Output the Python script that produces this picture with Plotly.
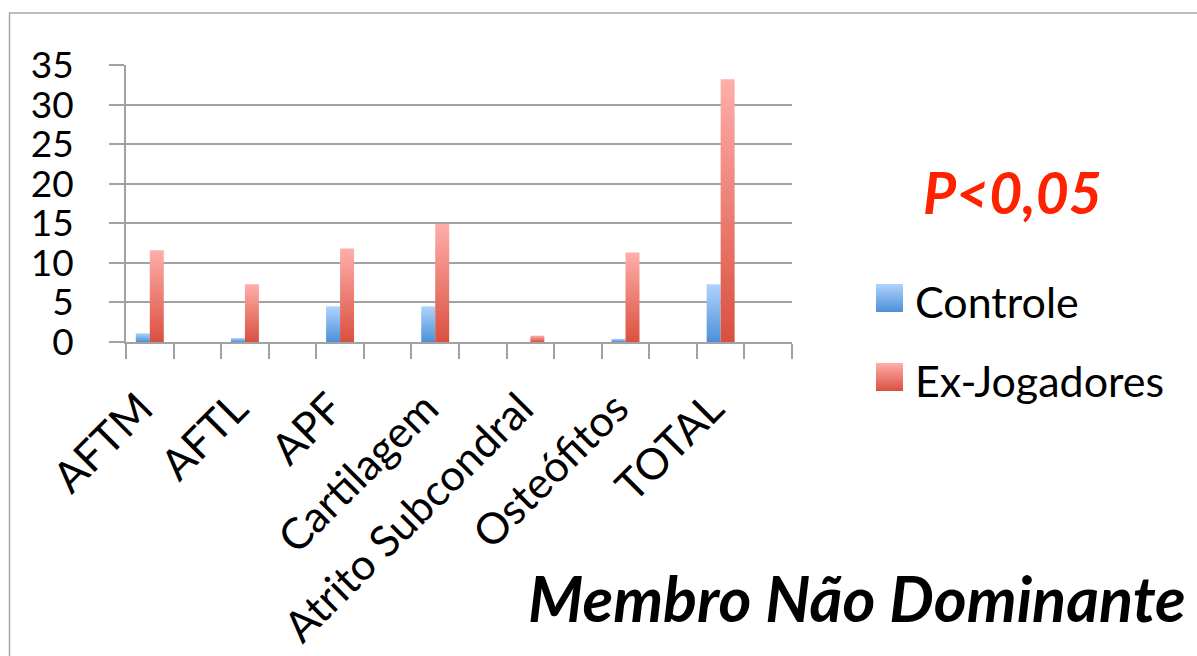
import plotly.graph_objects as go

# Achados por estrutura (membro não dominante)
categorias = ["AFTM", "AFTL", "APF", "Cartilagem", "Atrito Subcondral", "Osteófitos", "TOTAL"]
controle = [1.1, 0.5, 4.5, 4.5, 0.0, 0.4, 7.3]
ex_jogadores = [11.6, 7.3, 11.8, 14.9, 0.8, 11.3, 33.2]
y_ticks = [0, 5, 10, 15, 20, 25, 30, 35]

# each category sits in every other slot, leaving an empty slot between groups
n_slots = 2 * len(categorias)
pos = [2 * i for i in range(len(categorias))]

W, H = 1197, 656
L, R, T, B = 126, 792, 65, 342  # plot area in pixels
FONT = "Lato, 'Open Sans', sans-serif"
GRID = "#a2a2a2"
BLUE = "#7db3ee"
RED = "#ef8580"
bar_w = 0.294
label_shift = -0.2  # nudges the slanted labels so they end under the bar pair


def px(x):
    return (x - L) / (R - L)


def py(y):
    return (B - y) / (B - T)


fig = go.Figure()
fig.add_trace(go.Bar(x=pos, y=controle, name="Controle", width=bar_w, offset=-bar_w,
                     marker=dict(color=BLUE, line=dict(width=0))))
fig.add_trace(go.Bar(x=pos, y=ex_jogadores, name="Ex-Jogadores", width=bar_w, offset=0,
                     marker=dict(color=RED, line=dict(width=0))))

fig.update_layout(
    width=W, height=H,
    margin=dict(l=L, r=W - R, t=T, b=H - B, autoexpand=False),
    paper_bgcolor="white", plot_bgcolor="white",
    showlegend=False,
    barmode="overlay",
    font=dict(family=FONT, color="black"),
    xaxis=dict(
        range=[-0.5, n_slots - 0.5],
        tickvals=[p + label_shift for p in pos], ticktext=categorias,
        tickangle=-45, ticks="", ticklabelstandoff=22,
        tickfont=dict(size=43, family=FONT),
        showgrid=False, zeroline=False, automargin=False,
        showline=True, linecolor=GRID, linewidth=2,
        minor=dict(tick0=-0.5, dtick=1, ticks="outside", ticklen=15,
                   tickcolor=GRID, tickwidth=2, showgrid=False),
        fixedrange=True,
    ),
    yaxis=dict(
        range=[0, 35], tickvals=y_ticks,
        ticks="outside", ticklen=15, tickcolor=GRID, tickwidth=2,
        ticklabelstandoff=28,
        tickfont=dict(size=37, family=FONT),
        showgrid=True, gridcolor=GRID, gridwidth=2,
        zeroline=False, showline=True, linecolor=GRID, linewidth=2,
        automargin=False, fixedrange=True,
    ),
)

# outer frame of the chart
fig.add_shape(type="rect", xref="paper", yref="paper",
              x0=px(9.5), y0=py(700), x1=px(1250), y1=py(13),
              line=dict(color="#a8a8a8", width=1.5), fillcolor="rgba(0,0,0,0)", layer="below")

# significance note
fig.add_annotation(x=px(1012), y=py(192), xref="paper", yref="paper",
                   xanchor="center", yanchor="middle",
                   text="<b><i>P<0,05</i></b>", showarrow=False,
                   font=dict(size=57, color="#ff2200", family=FONT))

# chart title at the bottom right
fig.add_annotation(x=px(1188), y=py(597), xref="paper", yref="paper",
                   xanchor="right", yanchor="middle",
                   text="<b><i>Membro Não Dominante</i></b>", showarrow=False,
                   font=dict(size=63, color="black", family=FONT))

# legend keys
for name, color, yc in [("Controle", BLUE, 298), ("Ex-Jogadores", RED, 377)]:
    fig.add_shape(type="rect", xref="paper", yref="paper",
                  x0=px(876), x1=px(903), y0=py(yc + 14), y1=py(yc - 14),
                  fillcolor=color, line=dict(width=0))
    fig.add_annotation(x=px(913), y=py(yc + 3), xref="paper", yref="paper",
                       xanchor="left", yanchor="middle", text=name, showarrow=False,
                       font=dict(size=43, color="black", family=FONT))

# vertical light-to-dark gradient on the bars and legend keys
post = """
var gd = document.getElementById('{plot_id}');
function shade() {
  var ns = 'http://www.w3.org/2000/svg';
  var svg = gd.querySelector('svg.main-svg');
  var defs = svg.querySelector('defs');
  function mk(id, top, bot) {
    if (document.getElementById(id)) return;
    var g = document.createElementNS(ns, 'linearGradient');
    g.setAttribute('id', id);
    g.setAttribute('x1', '0'); g.setAttribute('y1', '0');
    g.setAttribute('x2', '0'); g.setAttribute('y2', '1');
    [[0, top], [1, bot]].forEach(function (s) {
      var st = document.createElementNS(ns, 'stop');
      st.setAttribute('offset', s[0]);
      st.setAttribute('stop-color', s[1]);
      g.appendChild(st);
    });
    defs.appendChild(g);
  }
  mk('gradControle', '#afd3fd', '#4d90d7');
  mk('gradEx', '#ffaeaa', '#d9503f');
  var map = {'rgb(125, 179, 238)': 'gradControle', 'rgb(239, 133, 128)': 'gradEx'};
  gd.querySelectorAll('path').forEach(function (p) {
    var f = window.getComputedStyle(p).fill;
    if (map[f]) p.style.fill = 'url(#' + map[f] + ')';
  });
}
shade();
gd.on('plotly_afterplot', shade);
"""

fig.write_html("out.html", post_script=post)
